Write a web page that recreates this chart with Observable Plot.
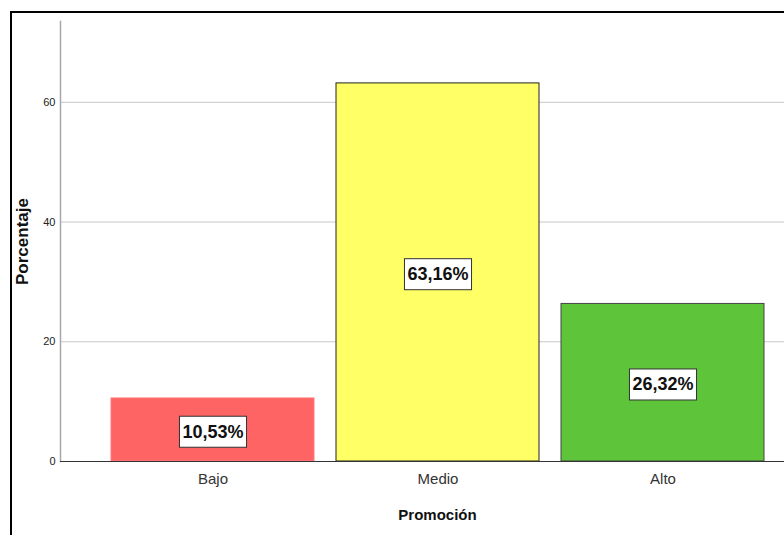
<!DOCTYPE html>
<html>
<head>
<meta charset="utf-8">
<script src="https://cdn.jsdelivr.net/npm/d3@7"></script>
<script src="https://cdn.jsdelivr.net/npm/@observablehq/plot@0.6"></script>
<style>
  html, body { margin: 0; padding: 0; background: #fff; overflow: hidden; }
  #wrap { position: relative; width: 784px; height: 535px; overflow: hidden; background: #fff; }
  #wrap::after {
    content: ""; position: absolute; left: 10px; top: 11px;
    width: 900px; height: 700px; border: 2px solid #000; box-sizing: border-box;
    pointer-events: none;
  }
  #chart svg { display: block; }
</style>
</head>
<body>
<div id="wrap"><div id="chart"></div></div>
<script>
// Distribución de la promoción por nivel (porcentaje)
const categories = ["Bajo", "Medio", "Alto"];
const percentages = [10.53, 63.16, 26.32];
const yTicks = [0, 20, 40, 60];
const xTitle = "Promoción";
const yTitle = "Porcentaje";

const barFill = ["#ff6464", "#ffff66", "#5ec43a"];
const barStroke = ["#ff7a7a", "#222222", "#444444"];

const rows = categories.map((c, i) => ({ nivel: c, pct: percentages[i] }));
const fmt = v => v.toFixed(2).replace(".", ",") + "%";

const chart = Plot.plot({
  width: 784,
  height: 535,
  marginTop: 21,
  marginBottom: 74,
  marginLeft: 60,
  marginRight: 0,
  style: { fontFamily: "'Liberation Sans', Arial, sans-serif", background: "transparent" },
  x: { domain: categories, paddingInner: 0.097, paddingOuter: 0.1505, align: 0.72, label: null },
  y: { domain: [0, 73.5], label: null },
  color: { domain: categories, range: barFill },
  marks: [
    Plot.gridY(yTicks.filter(t => t > 0), { stroke: "#c8c8c8", strokeOpacity: 1 }),
    Plot.frame({ anchor: "left", stroke: "#a8a8a8", strokeWidth: 1.5 }),
    Plot.barY(rows, {
      x: "nivel", y: "pct", fill: "nivel",
      stroke: (d, i) => barStroke[i], strokeWidth: 1
    }),
    Plot.ruleY([0], { stroke: "#333" }),
    Plot.axisY(yTicks, { tickSize: 0, tickPadding: 5, fontSize: 11, fill: "#222", label: null }),
    Plot.axisX({ tickSize: 0, tickPadding: 12, fontSize: 15, fill: "#333", label: null }),
    Plot.text(rows, {
      x: "nivel", y: d => d.pct / 2, text: d => fmt(d.pct), dy: 2,
      fontSize: 18, fontWeight: "bold", fill: "#111"
    }),
    Plot.text([xTitle], {
      frameAnchor: "bottom", dx: 15, dy: 58, textAnchor: "middle", fontSize: 15, fontWeight: "bold", fill: "#111"
    }),
    Plot.text([yTitle], {
      frameAnchor: "left", dx: -38, rotate: -90, textAnchor: "middle",
      fontSize: 17, fontWeight: "bold", fill: "#111"
    })
  ]
});

document.getElementById("chart").appendChild(chart);

// white boxes behind the value labels
const labelTexts = percentages.map(fmt);
Array.from(chart.querySelectorAll("text"))
  .filter(t => labelTexts.includes(t.textContent.trim()))
  .forEach(t => {
    const b = t.getBBox();
    const r = document.createElementNS("http://www.w3.org/2000/svg", "rect");
    r.setAttribute("x", b.x - 3);
    r.setAttribute("y", b.y - 5.5);
    r.setAttribute("width", b.width + 6);
    r.setAttribute("height", b.height + 11);
    r.setAttribute("fill", "#fff");
    r.setAttribute("stroke", "#333");
    r.setAttribute("stroke-width", 1);
    const tr = t.getAttribute("transform");
    if (tr) r.setAttribute("transform", tr);
    t.parentNode.insertBefore(r, t);
  });
</script>
</body>
</html>
